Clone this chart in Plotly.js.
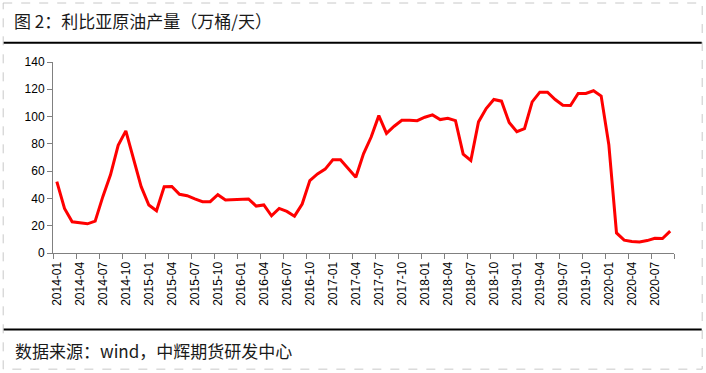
<!DOCTYPE html>
<html>
<head>
<meta charset="utf-8">
<script src="https://cdn.plot.ly/plotly-3.0.1.min.js"></script>
<style>html,body{margin:0;padding:0;background:#fff;}#chart{width:706px;height:373px;}</style>
</head>
<body>
<div id="chart"></div>
<script>
var months = [
"2014-01","2014-02","2014-03","2014-04","2014-05","2014-06","2014-07","2014-08","2014-09","2014-10","2014-11","2014-12",
"2015-01","2015-02","2015-03","2015-04","2015-05","2015-06","2015-07","2015-08","2015-09","2015-10","2015-11","2015-12",
"2016-01","2016-02","2016-03","2016-04","2016-05","2016-06","2016-07","2016-08","2016-09","2016-10","2016-11","2016-12",
"2017-01","2017-02","2017-03","2017-04","2017-05","2017-06","2017-07","2017-08","2017-09","2017-10","2017-11","2017-12",
"2018-01","2018-02","2018-03","2018-04","2018-05","2018-06","2018-07","2018-08","2018-09","2018-10","2018-11","2018-12",
"2019-01","2019-02","2019-03","2019-04","2019-05","2019-06","2019-07","2019-08","2019-09","2019-10","2019-11","2019-12",
"2020-01","2020-02","2020-03","2020-04","2020-05","2020-06","2020-07","2020-08","2020-09"
];
var production = [
52.3,32.7,22.9,22.4,21.4,23.4,41.3,57.3,78.9,89.5,69.5,48.6,
35.2,31.0,48.6,48.8,43.0,42.0,39.6,37.6,37.6,42.7,38.8,39.0,
39.4,39.6,34.4,35.2,27.3,32.7,30.5,27.0,35.9,53.1,58.0,61.5,
68.3,68.3,61.9,55.5,72.7,85.0,100.7,87.7,92.9,97.3,97.3,97.0,
99.5,101.2,97.8,98.7,97.0,72.5,67.8,96.1,105.9,112.5,111.3,95.6,
88.9,91.2,110.8,117.9,117.9,112.5,108.3,108.1,116.9,116.9,118.9,115.0,
79.4,14.7,9.4,8.4,8.1,9.1,10.8,10.6,16.0
];
var yTicks = [0,20,40,60,80,100,120,140];
var titleText = "图 2：利比亚原油产量（万桶/天）";
var sourceText = "数据来源：wind，中辉期货研发中心";

var W = 706, H = 373;
var L = 53.3, R = 674.3, T = 62.3, B = 252.7;
function px(x){ return (x - L) / (R - L); }
function py(y){ return (B - y) / (B - T); }

var trace = {
  x: months, y: production, type: 'scatter', mode: 'lines',
  line: {color: '#ff0000', width: 3}, hoverinfo: 'skip'
};

var cjk = '"Noto Sans CJK SC", "Noto Sans", sans-serif';
var layout = {
  width: W, height: H,
  margin: {l: L, r: W - R, t: T, b: H - B, pad: 0},
  paper_bgcolor: '#ffffff', plot_bgcolor: '#ffffff',
  showlegend: false,
  title: {
    text: titleText, xref: 'container', yref: 'container',
    x: 14 / W, xanchor: 'left', y: 1 - 22 / H, yanchor: 'middle',
    font: {family: cjk, size: 17, color: '#1a1a1a'}
  },
  xaxis: {
    type: 'category', tickmode: 'linear', tick0: 0, dtick: 3,
    tickson: 'boundaries', ticks: 'outside', ticklen: 5, tickwidth: 1, tickcolor: '#808080',
    showline: true, linecolor: '#808080', linewidth: 1,
    showgrid: false, zeroline: false, tickangle: -90, ticklabelstandoff: 3,
    tickfont: {family: 'Liberation Sans, Arial, sans-serif', size: 12, color: '#000'},
    range: [-0.5, 80.5], fixedrange: true
  },
  yaxis: {
    range: [0, 140], tickvals: yTicks, ticktext: yTicks.map(String),
    ticks: 'outside', ticklen: 5, tickwidth: 1, tickcolor: '#808080',
    showline: true, linecolor: '#808080', linewidth: 1,
    showgrid: false, zeroline: false,
    tickfont: {family: 'Liberation Sans, Arial, sans-serif', size: 12, color: '#000'},
    fixedrange: true
  },
  shapes: [
    {type: 'rect', xref: 'paper', yref: 'paper', x0: px(3.5), x1: px(702.5), y0: py(3.5), y1: py(368.5),
     line: {color: '#c8c8c8', width: 1, dash: 'dash'}, fillcolor: 'rgba(0,0,0,0)', layer: 'below'},
    {type: 'line', xref: 'paper', yref: 'paper', x0: px(4), x1: px(702), y0: py(43), y1: py(43),
     line: {color: '#000', width: 2}},
    {type: 'line', xref: 'paper', yref: 'paper', x0: px(4), x1: px(702), y0: py(329), y1: py(329),
     line: {color: '#000', width: 2}}
  ],
  annotations: [
    {text: sourceText, xref: 'paper', yref: 'paper', x: px(13), y: py(350),
     xanchor: 'left', yanchor: 'middle', showarrow: false,
     font: {family: cjk, size: 17, color: '#1a1a1a'}}
  ]
};

Plotly.newPlot('chart', [trace], layout, {displayModeBar: false, staticPlot: true});
</script>
</body>
</html>
